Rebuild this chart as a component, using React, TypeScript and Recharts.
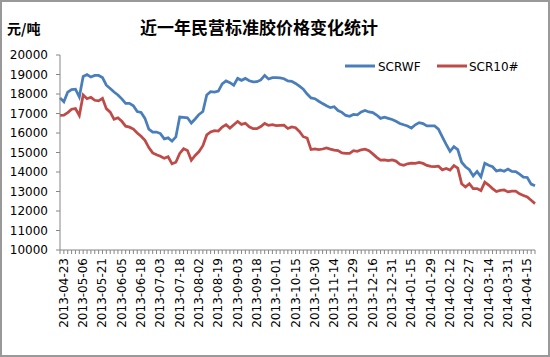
import React from "react";
import {Legend, Line, LineChart, XAxis, YAxis} from "recharts";

// x轴标注日期（每5个数据点一个）
const tickDates = [
    "2013-04-23", "2013-05-06", "2013-05-21", "2013-06-05", "2013-06-18", "2013-07-03",
    "2013-07-18", "2013-08-02", "2013-08-19", "2013-09-03", "2013-09-18", "2013-10-01",
    "2013-10-15", "2013-10-30", "2013-11-14", "2013-11-29", "2013-12-16", "2013-12-31",
    "2014-01-15", "2014-01-29", "2014-02-12", "2014-02-27", "2014-03-14", "2014-03-31",
    "2014-04-15"
];

const scrwf = [
    17800, 17600, 18100, 18230, 18250, 17850, 18900, 19000, 18870, 18950,
    18950, 18840, 18450, 18280, 18100, 17950, 17750, 17520, 17520, 17400,
    17100, 17050, 16750, 16200, 16050, 16050, 15970, 15700, 15750, 15580,
    15800, 16820, 16800, 16780, 16510, 16720, 16950, 17100, 17950, 18120,
    18100, 18150, 18520, 18670, 18580, 18450, 18800, 18700, 18800, 18680,
    18620, 18630, 18720, 18950, 18770, 18840, 18840, 18830, 18780, 18670,
    18650, 18540, 18400, 18250, 18000, 17800, 17760, 17630, 17510, 17400,
    17300, 17350, 17150, 17060, 16900, 16860, 16950, 16930, 17080, 17150,
    17080, 17050, 16920, 16750, 16810, 16750, 16690, 16600, 16490, 16420,
    16360, 16250, 16420, 16530, 16480, 16360, 16360, 16360, 16200, 15800,
    15420, 15060, 15300, 15150, 14500, 14270, 14120, 13800, 14030, 13750,
    14450, 14350, 14270, 14050, 14100, 14040, 14150, 14030, 14020, 13890,
    13740, 13720, 13380, 13290
];

const scr10 = [
    16900, 16920, 17050, 17220, 17250, 16900, 17950, 17760, 17830, 17680,
    17650, 17780, 17250, 17070, 16700, 16780, 16600, 16350, 16300, 16200,
    16000, 15830, 15620, 15250, 14980, 14880, 14810, 14700, 14780, 14420,
    14500, 14950, 15190, 15100, 14600, 14850, 15050, 15350, 15900, 16050,
    16120, 16100, 16300, 16430, 16250, 16420, 16590, 16440, 16500, 16320,
    16220, 16220, 16330, 16490, 16390, 16430, 16380, 16390, 16400, 16230,
    16310, 16270, 16080, 15810, 15740, 15150, 15180, 15150, 15180, 15230,
    15170, 15120, 15100, 14980, 14960, 14950, 15090, 15060, 15140, 15170,
    15090, 14930, 14750, 14610, 14620, 14580, 14620, 14560, 14400, 14340,
    14420, 14460, 14440, 14490, 14440, 14340, 14290, 14280, 14300, 14110,
    14180, 14100, 14330, 14200, 13400, 13230, 13400, 13150, 13150, 13050,
    13480, 13330, 13150, 13000, 13060, 13080, 12980, 13020, 13020, 12880,
    12800, 12720, 12550, 12380
];

const yTicks = [10000, 11000, 12000, 13000, 14000, 15000, 16000, 17000, 18000, 19000, 20000];

const BLUE = "#4a7ebb";
const RED = "#be4b48";
const AXIS = "#868686";
const FONT = "'DejaVu Sans', sans-serif";

const data = scrwf.map((v, i) => ({
    idx: i,
    label: i % 5 === 1 ? tickDates[(i - 1) / 5] : "",
    scrwf: v,
    scr10: scr10[i]
}));

const DateTick = (props: any) => {
    const {x, y, payload} = props;
    const row = data[payload.value];
    if (!row || !row.label) return <g/>;
    return (
        <text x={x} y={y} transform={`rotate(-90, ${x}, ${y})`} textAnchor="end"
              dominantBaseline="central" fontSize={12} fontFamily={FONT} fill="#000">
            {row.label}
        </text>
    );
};

const renderLegend = () => (
    <svg width={190} height={16}>
        <line x1={2} y1={8} x2={32} y2={8} stroke={BLUE} strokeWidth={3}/>
        <text x={35} y={12.5} fontSize={12} fontFamily={FONT} fill="#000">SCRWF</text>
        <line x1={94} y1={8} x2={124} y2={8} stroke={RED} strokeWidth={3}/>
        <text x={126} y={12.5} fontSize={12} fontFamily={FONT} fill="#000">SCR10#</text>
    </svg>
);

export default function App() {
    return (
        <div style={{position: "absolute", left: 0, top: 0, width: 550, height: 357, background: "#fff"}}>
            <div style={{
                position: "absolute", left: 0, top: 14, width: 518, textAlign: "center",
                fontFamily: "'Noto Sans CJK SC', sans-serif", fontSize: 17, fontWeight: "bold", color: "#000"
            }}>
                近一年民营标准胶价格变化统计
            </div>
            <div style={{
                position: "absolute", left: 7, top: 18,
                fontFamily: "'Noto Sans CJK SC', sans-serif", fontSize: 14, fontWeight: "bold", color: "#000"
            }}>
                元/吨
            </div>
            <LineChart width={550} height={357} data={data}
                       margin={{top: 55, right: 15, bottom: 0, left: 0}}>
                <XAxis dataKey="idx" type="category" interval={0} height={87}
                       axisLine={{stroke: AXIS}} tickLine={{stroke: AXIS}} tickSize={4} tickMargin={4}
                       tick={<DateTick/>}/>
                <YAxis type="number" domain={[10000, 20000]} ticks={yTicks} interval={0} width={60}
                       axisLine={{stroke: AXIS}} tickLine={{stroke: AXIS}} tickSize={4} tickMargin={8}
                       tick={{fontSize: 12, fontFamily: FONT, fill: "#000"}}/>
                <Legend content={renderLegend}
                        wrapperStyle={{position: "absolute", left: 343, top: 58, width: 190}}/>
                <Line type="linear" dataKey="scrwf" name="SCRWF" stroke={BLUE} strokeWidth={2.75}
                      dot={false} isAnimationActive={false}/>
                <Line type="linear" dataKey="scr10" name="SCR10#" stroke={RED} strokeWidth={2.75}
                      dot={false} isAnimationActive={false}/>
            </LineChart>
            <div style={{
                position: "absolute", left: 0, top: 0, width: 550, height: 357,
                border: "2px solid #999", boxSizing: "border-box", pointerEvents: "none"
            }}/>
        </div>
    );
}
